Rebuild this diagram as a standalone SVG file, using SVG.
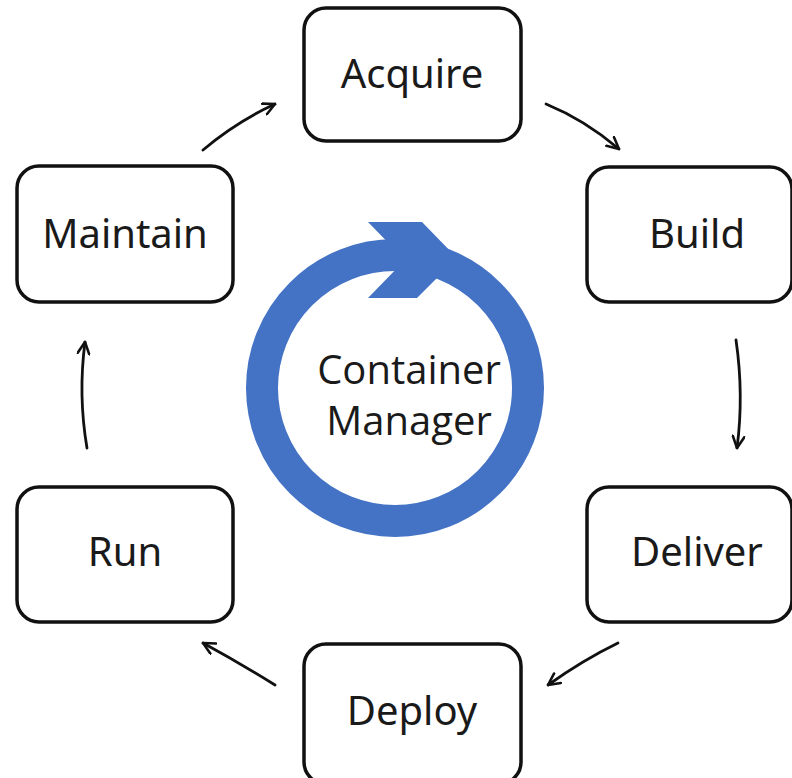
<svg xmlns="http://www.w3.org/2000/svg" width="792" height="778" viewBox="0 0 792 778">
<style>
.box{fill:#fff;stroke:#111;stroke-width:3.5}
.lbl{font-family:"Noto Sans","DejaVu Sans",sans-serif;font-size:40px;fill:#1a1a1a;text-anchor:middle}
.ctr{font-family:"Open Sans","Liberation Sans",sans-serif;font-size:40px;fill:#1a1a1a;text-anchor:middle}
.con{fill:none;stroke:#111;stroke-width:2.8;stroke-linecap:round;marker-end:url(#ah)}
</style>
<defs>
<marker id="ah" viewBox="0 0 12 12" refX="11" refY="6" markerWidth="14" markerHeight="14" markerUnits="userSpaceOnUse" orient="auto">
<path d="M1,1 L11,6 L1,11" fill="none" stroke="#111" stroke-width="2.2" stroke-linecap="round" stroke-linejoin="round"/>
</marker>
</defs>
<rect width="792" height="778" fill="#fff"/>
<g id="center">
<circle cx="395" cy="388" r="133" fill="none" stroke="#4472C4" stroke-width="32"/>
<polygon points="368,222 422,222 457,258 417,298 368,298 405,260" fill="#4472C4"/>
<text class="ctr" x="409" y="384">Container</text>
<text class="ctr" x="409" y="435">Manager</text>
</g>
<g id="acquire"><rect class="box" x="304" y="8" width="217" height="133" rx="22"/><text class="lbl" x="412" y="88">Acquire</text></g>
<g id="build"><rect class="box" x="587" y="167" width="205" height="135" rx="22"/><text class="lbl" x="697" y="248">Build</text></g>
<g id="deliver"><rect class="box" x="587" y="487" width="205" height="135" rx="22"/><text class="lbl" x="697" y="566">Deliver</text></g>
<g id="deploy"><rect class="box" x="304" y="644" width="217" height="140" rx="22"/><text class="lbl" x="412" y="725">Deploy</text></g>
<g id="run"><rect class="box" x="17" y="487" width="216" height="135" rx="22"/><text class="lbl" x="125" y="566">Run</text></g>
<g id="maintain"><rect class="box" x="17" y="166" width="216" height="136" rx="22"/><text class="lbl" x="125" y="248">Maintain</text></g>
<g id="connectors">
<path class="con" d="M203,150 Q236,122 275,104"/>
<path class="con" d="M546,104 Q585,120 619,149"/>
<path class="con" d="M736,340 Q744,395 737,448"/>
<path class="con" d="M618,643 Q583,660 548,685"/>
<path class="con" d="M275,685 Q238,662 203,643"/>
<path class="con" d="M87,448 Q78,395 85,342"/>
</g>
</svg>
